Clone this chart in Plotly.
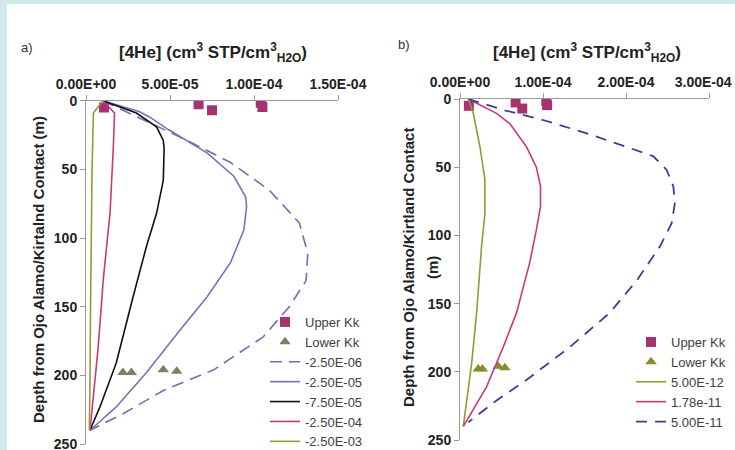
import plotly.graph_objects as go

# ---------------- data ----------------
# Measured samples (same in both panels)
upper_x = [1.07e-5, 6.7e-5, 7.5e-5, 1.04e-4, 1.05e-4]
upper_d = [5.0, 2.5, 7.0, 1.5, 4.5]
lower_x = [2.2e-5, 2.7e-5, 4.6e-5, 5.4e-5]
lower_d = [198, 198, 196, 197]

# Panel a) model curves
a_names = ["-2.50E-06", "-2.50E-05", "-7.50E-05", "-2.50E-04", "-2.50E-03"]
a1_d = [0, 15, 30, 45, 65, 89, 111, 131, 150, 172, 196, 211, 228, 240]
a1_x = [1.0e-5, 3.6e-5, 6.2e-5, 8.6e-5, 1.09e-4, 1.27e-4, 1.32e-4, 1.31e-4, 1.21e-4, 1.055e-4, 7.6e-5, 4.6e-5, 2.2e-5, 2.4e-6]
a2_d = [0, 8, 12, 21, 38, 55, 70, 77, 94, 118, 143, 167, 198, 223, 240]
a2_x = [1.0e-5, 3.2e-5, 3.8e-5, 4.9e-5, 7.2e-5, 8.8e-5, 9.5e-5, 9.56e-5, 9.4e-5, 8.6e-5, 7.2e-5, 5.6e-5, 3.6e-5, 1.8e-5, 2.4e-6]
a3_d = [0, 9, 19, 29, 35, 58, 82, 106, 143, 191, 223, 240]
a3_x = [1.0e-5, 3.0e-5, 4.2e-5, 4.6e-5, 4.65e-5, 4.6e-5, 4.2e-5, 3.6e-5, 2.8e-5, 1.8e-5, 8.3e-6, 2.4e-6]
a4_d = [0, 9, 33, 82, 130, 179, 240]
a4_x = [1.0e-5, 1.7e-5, 1.63e-5, 1.43e-5, 1.03e-5, 7.3e-6, 2.4e-6]
a5_d = [0, 9, 50, 100, 150, 200, 240]
a5_x = [1.0e-5, 4.4e-6, 3.6e-6, 3.0e-6, 2.7e-6, 2.4e-6, 2.0e-6]

# Panel b) model curves
b_names = ["5.00E-12", "1.78e-11", "5.00E-11"]
b1_d = [0, 10.5, 35, 59, 84, 108, 157, 194, 240]
b1_x = [1.0e-5, 1.6e-5, 2.4e-5, 3.0e-5, 3.0e-5, 2.6e-5, 2.0e-5, 1.4e-5, 4e-6]
b2_d = [0, 10.5, 18, 35, 50, 64, 79, 96, 120, 157, 182, 211, 240]
b2_x = [1.0e-5, 4.4e-5, 6.0e-5, 8.0e-5, 9.2e-5, 9.7e-5, 9.7e-5, 9.2e-5, 8.4e-5, 6.8e-5, 5.2e-5, 3.2e-5, 4e-6]
b3_d = [0, 8, 15.4, 25, 35, 42, 52, 64, 76, 91, 108, 133, 157, 182, 206, 221, 237]
b3_x = [1.0e-5, 5.2e-5, 1.0e-4, 1.52e-4, 2.0e-4, 2.33e-4, 2.49e-4, 2.57e-4, 2.59e-4, 2.55e-4, 2.41e-4, 2.13e-4, 1.80e-4, 1.32e-4, 8.0e-5, 4.4e-5, 1.0e-5]

a_xticks = [0, 5e-5, 1e-4, 1.5e-4]
a_xtext = ["0.00E+00", "5.00E-05", "1.00E-04", "1.50E-04"]
b_xticks = [0, 1e-4, 2e-4, 3e-4]
b_xtext = ["0.00E+00", "1.00E-04", "2.00E-04", "3.00E-04\u00a0\u00a0\u00a0"]
y_ticks = [0, 50, 100, 150, 200, 250]

# ---------------- styling ----------------
FONT = "Liberation Sans, Arial, sans-serif"
SQ = "#A5336F"
TRI_A = "#7E8064"
TRI_B = "#8A8A2E"
SLATE = "#7575B5"
PINK = "#C53A7C"
OLIVE = "#9A9835"
NAVY = "#3B3F8F"

W, H = 735, 450

fig = go.Figure()

def add(x, d, name, xa, ya, legend, **kw):
    fig.add_trace(go.Scatter(x=x, y=d, name=name, xaxis=xa, yaxis=ya, legend=legend, **kw))

# panel a
add(upper_x, upper_d, "Upper Kk", "x", "y", "legend", mode="markers",
    marker=dict(symbol="square", size=10, color=SQ))
add(lower_x, lower_d, "Lower Kk", "x", "y", "legend", mode="markers",
    marker=dict(symbol="triangle-up", size=10, color=TRI_A))
add(a1_x, a1_d, a_names[0], "x", "y", "legend", mode="lines",
    line=dict(color="#6F6FB0", width=1.6, dash="12px,7px"))
add(a2_x, a2_d, a_names[1], "x", "y", "legend", mode="lines",
    line=dict(color=SLATE, width=1.6))
add(a3_x, a3_d, a_names[2], "x", "y", "legend", mode="lines",
    line=dict(color="#111111", width=1.6))
add(a4_x, a4_d, a_names[3], "x", "y", "legend", mode="lines",
    line=dict(color=PINK, width=1.6))
add(a5_x, a5_d, a_names[4], "x", "y", "legend", mode="lines",
    line=dict(color=OLIVE, width=1.6))

# panel b
add(upper_x, upper_d, "Upper Kk", "x2", "y2", "legend2", mode="markers",
    marker=dict(symbol="square", size=10, color=SQ))
add(lower_x, lower_d, "Lower Kk", "x2", "y2", "legend2", mode="markers",
    marker=dict(symbol="triangle-up", size=10, color=TRI_B))
add(b1_x, b1_d, b_names[0], "x2", "y2", "legend2", mode="lines",
    line=dict(color=OLIVE, width=1.6))
add(b2_x, b2_d, b_names[1], "x2", "y2", "legend2", mode="lines",
    line=dict(color=PINK, width=1.6))
add(b3_x, b3_d, b_names[2], "x2", "y2", "legend2", mode="lines",
    line=dict(color=NAVY, width=1.8, dash="11px,8px"))

TICKFONT = dict(family=FONT, size=14, color="#222222", weight="bold")
axis_common = dict(showgrid=False, zeroline=False, showline=True, linecolor="#9a9a9a",
                   linewidth=1, ticks="outside", ticklen=5, tickcolor="#9a9a9a",
                   automargin=False, tickfont=TICKFONT, ticklabeloverflow="allow")

def xa(domain, rng, tv, tt, anchor):
    d = dict(axis_common)
    d.update(domain=domain, range=rng, side="top", tickvals=tv, ticktext=tt, anchor=anchor)
    return d

def ya(domain, anchor):
    d = dict(axis_common)
    d.update(domain=domain, range=[250, 0], tickvals=y_ticks, anchor=anchor)
    return d

fig.update_layout(
    width=W, height=H,
    margin=dict(l=0, r=0, t=0, b=0, autoexpand=False),
    paper_bgcolor="white", plot_bgcolor="rgba(0,0,0,0)",
    font=dict(family=FONT, color="#222222"),
    xaxis=xa([86 / W, 338 / W], [0, 1.5e-4], a_xticks, a_xtext, "y"),
    yaxis=ya([1 - 444 / H, 1 - 100.7 / H], "x"),
    xaxis2=xa([460 / W, 709 / W], [0, 3e-4], b_xticks, b_xtext, "y2"),
    yaxis2=ya([1 - 440 / H, 1 - 99 / H], "x2"),
    legend=dict(x=265 / W, y=1 - 307 / H, xanchor="left", yanchor="top",
                bgcolor="rgba(0,0,0,0)", font=dict(family=FONT, size=13, color="#404040"),
                tracegroupgap=0),
    legend2=dict(x=631 / W, y=1 - 327 / H, xanchor="left", yanchor="top",
                 bgcolor="rgba(0,0,0,0)", font=dict(family=FONT, size=13, color="#404040"),
                 tracegroupgap=0),
    showlegend=True,
)

# background frame (light cyan border of the original figure)
fig.add_shape(type="rect", xref="paper", yref="paper", x0=0, x1=1, y0=1 - 4 / H, y1=1,
              fillcolor="#cfe8ec", line_width=0, layer="below")
fig.add_shape(type="rect", xref="paper", yref="paper", x0=0, x1=7 / W, y0=0, y1=1,
              fillcolor="#d3eaed", line_width=0, layer="below")

def ann(x, y, text, size, angle=0, color="#222222"):
    fig.add_annotation(x=x / W, y=1 - y / H, xref="paper", yref="paper", text=text,
                       showarrow=False, textangle=angle, xanchor="center", yanchor="middle",
                       font=dict(family=FONT, size=size, color=color))

title = "<b>[4He] (cm<sup>3</sup> STP/cm<sup>3</sup><sub>H2O</sub>)</b>"
ann(213, 53, title, 17)
ann(587, 53, title, 17)
ann(27, 47, "a)", 13, color="#333333")
ann(404, 45, "b)", 13, color="#333333")
ann(38, 270, "<b>Depth from Ojo Alamo/Kirtalnd Contact (m)</b>", 15, angle=-90)
ann(408, 268, "<b>Depth from Ojo Alamo/Kirtland Contact</b>", 15, angle=-90)
ann(432, 268, "<b>(m)</b>", 15, angle=-90)

fig.write_html("out.html")
